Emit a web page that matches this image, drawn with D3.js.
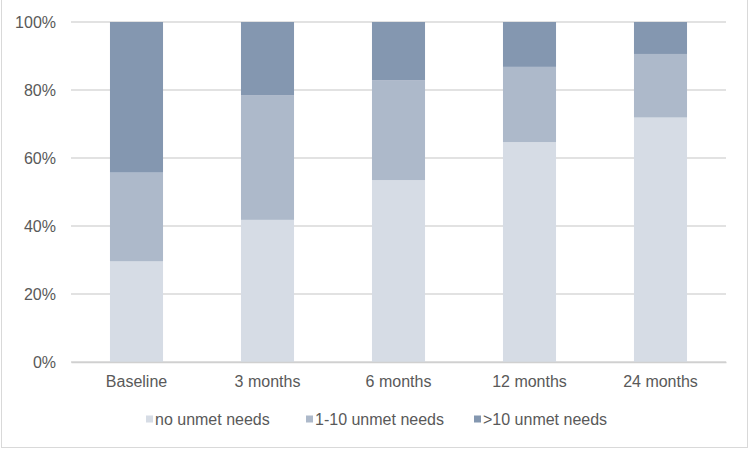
<!DOCTYPE html>
<html>
<head>
<meta charset="utf-8">
<script src="https://cdn.jsdelivr.net/npm/d3@7"></script>
<style>
  body { margin: 0; background: #fff; }
  text { font-family: "Liberation Sans", Arial, sans-serif; fill: #595959; }
</style>
</head>
<body>
<div id="chart"></div>
<script>
// categories and series (percent of patients)
var categories = ["Baseline", "3 months", "6 months", "12 months", "24 months"];
var seriesNames = ["no unmet needs", "1-10 unmet needs", ">10 unmet needs"];
var noUnmet = [29.6, 41.8, 53.5, 64.7, 71.9];
var unmet1to10 = [26.1, 36.7, 29.4, 22.1, 18.7];
var unmetOver10 = [44.3, 21.5, 17.1, 13.2, 9.4];
var yTicks = [0, 20, 40, 60, 80, 100];
var colors = ["#d6dce5", "#adb9ca", "#8497b0"];

var W = 749, H = 450;
var margin = { top: 22, right: 23, bottom: 88, left: 71 },
    width = W - margin.left - margin.right,
    height = H - margin.top - margin.bottom;

var rows = categories.map(function (c, i) {
    return { cat: c, s0: noUnmet[i], s1: unmet1to10[i], s2: unmetOver10[i] };
});
var stacked = d3.stack().keys(["s0", "s1", "s2"])(rows);

var root = d3.select("#chart").append("svg")
    .attr("width", W)
    .attr("height", H);

// chart border
root.append("rect")
    .attr("x", 1.5).attr("y", -1)
    .attr("width", W - 3).attr("height", H - 1.5)
    .attr("fill", "none")
    .attr("stroke", "#d9d9d9");

var svg = root.append("g")
    .attr("transform", "translate(" + margin.left + "," + margin.top + ")");

var x = d3.scaleBand()
    .domain(categories)
    .range([0, width])
    .paddingInner(0.595)
    .paddingOuter(0.2975);

var y = d3.scaleLinear().domain([0, 100]).range([height, 0]);

// grid lines
svg.append("g")
    .selectAll("line")
    .data(yTicks)
    .enter()
    .append("line")
    .attr("x1", 0).attr("x2", width)
    .attr("y1", function (d) { return y(d); })
    .attr("y2", function (d) { return y(d); })
    .attr("stroke", "#d9d9d9")
    .attr("stroke-width", 1.3);

// y labels
var yAxis = d3.axisLeft(y).tickValues(yTicks)
    .tickFormat(function (d) { return d + "%"; })
    .tickSize(0).tickPadding(15);
var yg = svg.append("g").call(yAxis);
yg.select(".domain").remove();
yg.selectAll("text").style("font-size", "16px").attr("fill", "#595959");

// bars
svg.append("g")
    .selectAll("g")
    .data(stacked)
    .enter()
    .append("g")
    .attr("fill", function (d, i) { return colors[i]; })
    .selectAll("rect")
    .data(function (d) { return d; })
    .enter()
    .append("rect")
    .attr("x", function (d) { return x(d.data.cat); })
    .attr("y", function (d) { return y(d[1]); })
    .attr("width", x.bandwidth())
    .attr("height", function (d) { return y(d[0]) - y(d[1]); });

// x axis
var xAxis = d3.axisBottom(x).tickSize(0).tickPadding(14);
var xg = svg.append("g")
    .attr("transform", "translate(0," + height + ")")
    .call(xAxis);
xg.select(".domain").attr("stroke", "#d0d0d0").attr("stroke-width", 1.3);
xg.selectAll("text").style("font-size", "16px").attr("fill", "#595959");

// legend
var legendX = [146, 306, 474];
var legend = root.append("g")
    .selectAll("g")
    .data(seriesNames)
    .enter()
    .append("g")
    .attr("transform", function (d, i) { return "translate(" + legendX[i] + ",419)"; });
legend.append("rect")
    .attr("x", 0).attr("y", -3.5)
    .attr("width", 7).attr("height", 7)
    .attr("fill", function (d, i) { return colors[i]; });
legend.append("text")
    .attr("x", 9).attr("y", 0)
    .attr("dy", "0.35em")
    .style("font-size", "16px")
    .text(function (d) { return d; });
</script>
</body>
</html>
